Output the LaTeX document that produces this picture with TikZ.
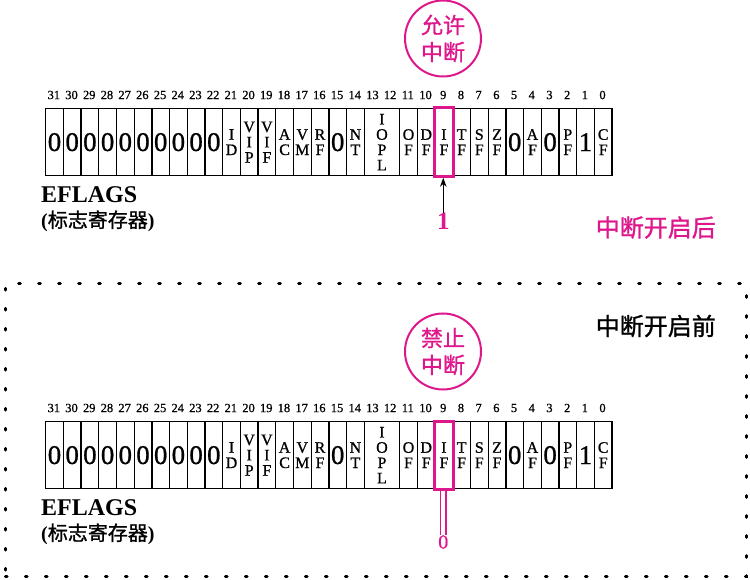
\documentclass[tikz,border=0pt]{standalone}
\usepackage{fontspec}
\setmainfont{Liberation Serif}
\newfontfamily\cellfont{Liberation Serif}[BoldFont={Liberation Serif}, BoldFeatures={FakeBold=0.8}]
\newfontfamily\cjk{Noto Sans CJK SC}
\newfontfamily\cjkm{Noto Sans CJK SC}[BoldFont={Noto Sans CJK SC}, BoldFeatures={FakeBold=1.2}]
\usetikzlibrary{fit,arrows.meta}
\definecolor{mag}{RGB}{222,24,140}
\newcommand\bz{{\fontsize{27}{27}\selectfont 0}}
\newcommand\bo{{\fontsize{27}{27}\selectfont 1}}
\tikzset{
  cell/.style={draw, line width=1.3pt, minimum width=17.7pt, minimum height=67pt,
    inner sep=0pt, anchor=north west, align=center,
    font=\cellfont\bfseries\fontsize{16}{15.3}\selectfont},
  bitnum/.style={inner sep=0pt, font=\cellfont\bfseries\fontsize{12.5}{12.5}\selectfont},
  ifbox/.style={draw=mag, line width=3pt, inner sep=0pt},
  stamp/.style={circle, draw=mag, line width=2pt, minimum size=76pt, inner sep=0pt,
    text=mag, align=center, font=\cjkm\bfseries\fontsize{22}{27}\selectfont},
  eflags/.style={anchor=west, inner sep=0pt, font=\bfseries\fontsize{24}{24}\selectfont},
  regname/.style={anchor=west, inner sep=0pt, font=\bfseries\fontsize{20}{20}\selectfont},
  state/.style={anchor=east, inner sep=0pt, font=\cjkm\bfseries\fontsize{24}{24}\selectfont},
  frame/.style={draw, line width=2.8pt, line cap=round, dash pattern=on 1.8pt off 18.2pt,
    anchor=north west, inner sep=0pt},
}
\begin{document}
\begin{tikzpicture}[x=1pt,y=-1pt]
\useasboundingbox (0,0) rectangle (750,580);
\foreach \p/\yt in {t/108,b/421}{
  \foreach \b/\c in {31/\bz,30/\bz,29/\bz,28/\bz,27/\bz,26/\bz,25/\bz,24/\bz,23/\bz,22/\bz,
      21/I\\D,20/V\\I\\P,19/V\\I\\F,18/A\\C,17/V\\M,16/R\\F,15/\bz,14/N\\T,
      11/O\\F,10/D\\F,9/I\\F,8/T\\F,7/S\\F,6/Z\\F,5/\bz,4/A\\F,3/\bz,2/P\\F,1/\bo,0/C\\F}{
    \pgfmathsetmacro\xl{45+(31-\b)*17.7}
    \node[cell] (\p\b) at (\xl,\yt) {\c};
  }
  \pgfmathsetmacro\xi{45+18*17.7}
  \node[cell, minimum width=35.4pt] (\p IOPL) at (\xi,\yt) {I\\O\\P\\L};
  \foreach \b in {0,...,31}{
    \pgfmathsetmacro\xc{45+(31-\b+0.5)*17.7}
    \pgfmathsetmacro\yc{\yt-13}
    \node[bitnum] (\p n\b) at (\xc,\yc) {\b};
  }
  \node[ifbox, fit=(\p9)] (\p box) {};
}
% top (after)
\node[stamp] (tstamp) at (443,38.5) {允许\\中断};
\node[eflags] (teflags) at (41,195) {EFLAGS};
\node[regname] (treg) at (41,221) {({\cjkm\bfseries 标志寄存器})};
\node[inner sep=0pt, text=mag, font=\bfseries\fontsize{25}{25}\selectfont] (one) at (443.25,221.5) {1};
\draw[-{Stealth[length=9pt,width=6.5pt]}, line width=1.5pt] (one.north) -- (one.north |- tbox.south);
\node[state, text=mag] (after) at (716,227.5) {中断开启后};
% bottom (before)
\node[frame, minimum width=741pt, minimum height=293pt] (fr) at (4,282) {};
\node[state] (before) at (716,326) {中断开启前};
\node[stamp] (bstamp) at (443,351.5) {禁止\\中断};
\node[eflags] (beflags) at (41,508) {EFLAGS};
\node[regname] (breg) at (41,534) {({\cjkm\bfseries 标志寄存器})};
\node[inner sep=0pt, text=mag, font=\cellfont\bfseries\fontsize{20}{20}\selectfont] (zero) at (443.25,542) {0};
\draw[mag, line width=1.8pt, double=white, double distance=3.6pt] (zero.north |- bbox.south) -- (zero.north);
\end{tikzpicture}
\end{document}
